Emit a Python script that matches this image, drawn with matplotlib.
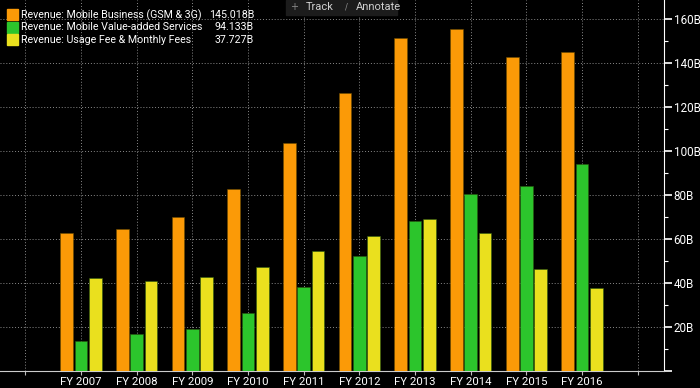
import numpy as np
import matplotlib.pyplot as plt
from matplotlib.ticker import MultipleLocator, FuncFormatter

# Datos (miles de millones)
years = ['FY 2007', 'FY 2008', 'FY 2009', 'FY 2010', 'FY 2011',
         'FY 2012', 'FY 2013', 'FY 2014', 'FY 2015', 'FY 2016']
mobile_business = [62.9, 64.4, 70.1, 82.7, 103.6, 126.2, 151.2, 155.3, 142.6, 145.018]
value_added = [13.8, 16.8, 19.2, 26.2, 38.0, 52.4, 68.2, 80.3, 84.0, 94.133]
usage_fees = [42.4, 40.9, 42.7, 47.4, 54.7, 61.4, 68.9, 62.6, 46.4, 37.727]

labels = ['Revenue: Mobile Business (GSM & 3G)',
          'Revenue: Mobile Value-added Services',
          'Revenue: Usage Fee & Monthly Fees']
colors = ['#FB9A07', '#2CC52C', '#EAE01E']
series = [mobile_business, value_added, usage_fees]

fuente = 'Roboto'

fig = plt.figure(figsize=(7, 3.88), dpi=100, facecolor='black')
ax = fig.add_axes([0, 1 - 371 / 388, 664 / 700, 371 / 388], facecolor='black')

x = np.arange(len(years))
step = 0.257
width = 0.228
for k, (vals, col) in enumerate(zip(series, colors)):
    ax.bar(x + (k - 1) * step, vals, width=width, color=col,
           edgecolor='#6b4a00' if k == 0 else '#2a5a10', linewidth=0.4, zorder=3)

ax.set_xlim(-1.455, 10.47)
ax.set_ylim(0, 168.6)

# rejilla punteada
for gx in range(-1, 11):
    ax.axvline(gx, color='#8a8a8a', linestyle=(0, (1, 2)), linewidth=0.7, zorder=1)
for gy in range(20, 161, 20):
    ax.axhline(gy, color='#8a8a8a', linestyle=(0, (1, 2)), linewidth=0.7, zorder=1)

# ejes
for s in ['top', 'left']:
    ax.spines[s].set_visible(False)
ax.spines['right'].set_color('white')
ax.spines['bottom'].set_color('#cccccc')
ax.yaxis.tick_right()
ax.yaxis.set_major_locator(MultipleLocator(20))
ax.yaxis.set_minor_locator(MultipleLocator(10))
ax.yaxis.set_major_formatter(FuncFormatter(lambda v, p: '' if v == 0 else f'{int(v)}B'))
ax.tick_params(axis='y', which='major', colors='white', length=6, width=1.2,
               labelsize=8.4, pad=1)
ax.tick_params(axis='y', which='minor', colors='white', length=3, width=0.8)
for t in ax.get_yticklabels():
    t.set_family(fuente)

ax.set_xticks(range(-1, 11))
ax.set_xticklabels([''] + years + [''])
ax.tick_params(axis='x', colors='#bbbbbb', length=3, width=0.8, labelsize=8.2,
               labelcolor='white', pad=1)
for t in ax.get_xticklabels():
    t.set_family(fuente)

# leyenda tipo terminal
final = [mobile_business[-1], value_added[-1], usage_fees[-1]]
for i, (lab, col, v) in enumerate(zip(labels, colors, final)):
    yy = 1 - (15 + 12.5 * i) / 388
    fig.patches.append(plt.Rectangle((7 / 700, yy - 5.5 / 388), 11 / 700, 11 / 388,
                                     transform=fig.transFigure, color=col, zorder=5))
    fig.text(21 / 700, yy, lab, color='white', fontsize=7.7, va='center', ha='left',
             family=fuente, zorder=6)
    fig.text(254 / 700, yy, f'{v:.3f}B', color='white', fontsize=7.7, va='center',
             ha='right', family=fuente, zorder=6)

# botones Track / Annotate
fig.patches.append(plt.Rectangle((286 / 700, 1 - 15 / 388), 111 / 700, 15 / 388,
                                 transform=fig.transFigure, color='#1c1c1c', zorder=4))
fig.text(294 / 700, 1 - 7.5 / 388, '+', color='#8a8a8a', fontsize=7,
         va='center', ha='center', zorder=6)
fig.text(306 / 700, 1 - 7.5 / 388, 'Track', color='#cfcfcf', fontsize=8.0,
         va='center', ha='left', family=fuente, zorder=6)
fig.text(346 / 700, 1 - 7.5 / 388, '/', color='#8a8a8a', fontsize=6,
         va='center', ha='center', zorder=6)
fig.text(356 / 700, 1 - 7.5 / 388, 'Annotate', color='#cfcfcf', fontsize=8.0,
         va='center', ha='left', family=fuente, zorder=6)

fig.savefig('out.png', dpi=100, facecolor='black')
